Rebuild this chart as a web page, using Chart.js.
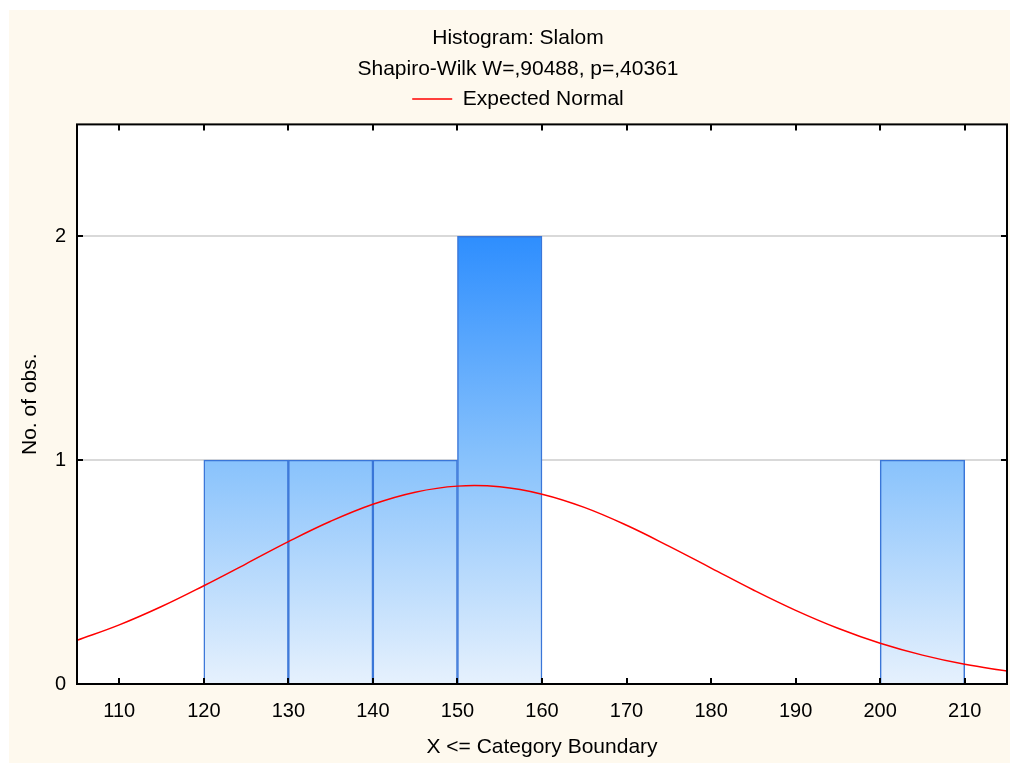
<!DOCTYPE html>
<html>
<head>
<meta charset="utf-8">
<title>Histogram: Slalom</title>
<script src="https://cdn.jsdelivr.net/npm/chart.js@4.4.1/dist/chart.umd.min.js"></script>
<style>
  html, body { margin: 0; padding: 0; background: #fff; overflow: hidden; }
  #wrap { position: absolute; left: 9px; top: 10px; width: 1018px; height: 753px; }
</style>
</head>
<body>
<div id="wrap"><canvas id="mycanvas"></canvas></div>
<script>
// histogram bins (centre of each 10-wide class) and counts
var binCenters = [125, 135, 145, 155, 205];
var binCounts = [1, 1, 1, 2, 1];

// expected normal curve, every 5 units
var normalX = [105, 110, 115, 120, 125, 130, 135, 140, 145, 150, 155, 160,
               165, 170, 175, 180, 185, 190, 195, 200, 205, 210, 215];
var normalY = [0.195, 0.264, 0.346, 0.439, 0.537, 0.636, 0.727, 0.803, 0.857, 0.884, 0.881, 0.848,
               0.789, 0.709, 0.616, 0.518, 0.420, 0.329, 0.249, 0.182, 0.129, 0.088, 0.058];

var xTicks = [110, 120, 130, 140, 150, 160, 170, 180, 190, 200, 210];
var yTicks = [0, 1, 2];

var fontFamily = '"Liberation Sans", Arial, sans-serif';

var barPoints = [];
for (var i in binCenters) {
    barPoints.push({x: binCenters[i], y: binCounts[i]});
}
var curvePoints = [];
for (var j in normalX) {
    curvePoints.push({x: normalX[j], y: normalY[j]});
}

function barFill(c) {
    var chart = c.chart;
    if (!chart.chartArea) return '#88c2fc';
    var ys = chart.scales.y;
    var g = chart.ctx.createLinearGradient(0, ys.getPixelForValue(0), 0, ys.getPixelForValue(2));
    g.addColorStop(0, '#e6f1fd');
    g.addColorStop(0.5, '#88c2fc');
    g.addColorStop(1, '#2e8efe');
    return g;
}

// ivory panel, white plot area, black frame and inward ticks
var framePlugin = {
    id: 'frame',
    beforeDraw: function (chart) {
        var ctx = chart.ctx, a = chart.chartArea;
        ctx.save();
        ctx.fillStyle = '#fef9ee';
        ctx.fillRect(0, 0, chart.width, chart.height);
        ctx.fillStyle = '#ffffff';
        ctx.fillRect(a.left, a.top, a.right - a.left, a.bottom - a.top);
        ctx.restore();
    },
    afterDraw: function (chart) {
        var ctx = chart.ctx, a = chart.chartArea;
        var xs = chart.scales.x, ys = chart.scales.y;
        ctx.save();
        ctx.strokeStyle = '#000';
        ctx.lineWidth = 2;
        ctx.beginPath();
        xs.ticks.forEach(function (t) {
            var px = Math.round(xs.getPixelForValue(t.value));
            ctx.moveTo(px, a.bottom); ctx.lineTo(px, a.bottom - 6);
            ctx.moveTo(px, a.top); ctx.lineTo(px, a.top + 6);
        });
        ys.ticks.forEach(function (t) {
            var py = Math.round(ys.getPixelForValue(t.value));
            ctx.moveTo(a.left, py); ctx.lineTo(a.left + 6, py);
            ctx.moveTo(a.right, py); ctx.lineTo(a.right - 6, py);
        });
        ctx.stroke();
        ctx.strokeRect(a.left, a.top, a.right - a.left, a.bottom - a.top);
        ctx.restore();
    }
};

// blank strips used only to place the plot frame
function spacer(pos, size) {
    return {
        type: 'linear',
        position: pos,
        display: true,
        afterFit: function (s) {
            if (pos === 'top') s.height = size; else s.width = size;
        },
        grid: { display: false, drawTicks: false },
        border: { display: false },
        ticks: { display: false }
    };
}

var ctx = document.getElementById("mycanvas").getContext("2d");
var myChart = new Chart(ctx, {
    type: 'bar',
    data: {
        datasets: [{
            type: 'bar',
            label: 'No. of obs.',
            data: barPoints,
            xAxisID: 'x',
            yAxisID: 'y',
            backgroundColor: barFill,
            borderColor: '#3a76d8',
            borderWidth: 1.5,
            barPercentage: 1,
            categoryPercentage: 1,
            order: 1
        }, {
            type: 'line',
            label: 'Expected Normal',
            data: curvePoints,
            xAxisID: 'x',
            yAxisID: 'y',
            borderColor: '#ff0000',
            borderWidth: 1.5,
            pointRadius: 0,
            pointStyle: 'line',
            tension: 0.4,
            fill: false,
            order: 0
        }]
    },
    options: {
        responsive: true,
        maintainAspectRatio: false,
        animation: false,
        layout: { padding: 0 },
        plugins: {
            title: {
                display: true,
                text: 'Histogram: Slalom',
                color: '#000',
                font: { family: fontFamily, size: 21, weight: 'normal' },
                padding: { top: 16, bottom: 0 }
            },
            subtitle: {
                display: true,
                text: 'Shapiro-Wilk W=,90488, p=,40361',
                color: '#000',
                font: { family: fontFamily, size: 21, weight: 'normal' },
                padding: { top: 5, bottom: 0 }
            },
            legend: {
                display: true,
                labels: {
                    usePointStyle: true,
                    pointStyleWidth: 40,
                    color: '#000',
                    font: { family: fontFamily, size: 21 },
                    padding: 7,
                    filter: function (item) { return item.datasetIndex === 1; }
                }
            },
            tooltip: { enabled: false }
        },
        scales: {
            x: {
                type: 'linear',
                min: 105,
                max: 215,
                offset: false,
                afterBuildTicks: function (s) {
                    s.ticks = xTicks.map(function (v) { return {value: v}; });
                },
                afterFit: function (s) { s.height = 79; },
                grid: { display: false, offset: false, drawTicks: false },
                border: { display: false },
                ticks: {
                    color: '#000',
                    font: { family: fontFamily, size: 20 },
                    padding: 15,
                    maxRotation: 0,
                    autoSkip: false
                },
                title: {
                    display: true,
                    text: 'X <= Category Boundary',
                    color: '#000',
                    font: { family: fontFamily, size: 21 },
                    padding: { top: 0, bottom: 3 }
                }
            },
            y: {
                min: 0,
                max: 2.5,
                afterBuildTicks: function (s) {
                    s.ticks = yTicks.map(function (v) { return {value: v}; });
                },
                afterFit: function (s) { s.width = 68; },
                grid: {
                    drawTicks: false,
                    lineWidth: 2,
                    color: function (c) { return c.tick && c.tick.value === 0 ? 'rgba(0,0,0,0)' : '#d9d9d9'; }
                },
                border: { display: false },
                ticks: {
                    color: '#000',
                    font: { family: fontFamily, size: 20 },
                    padding: 11
                },
                title: {
                    display: true,
                    text: 'No. of obs.',
                    color: '#000',
                    font: { family: fontFamily, size: 21 },
                    padding: { top: 9, bottom: 0 }
                }
            },
            topGap: spacer('top', 5),
            rightGap: spacer('right', 20)
        }
    },
    plugins: [framePlugin]
});
</script>
</body>
</html>
